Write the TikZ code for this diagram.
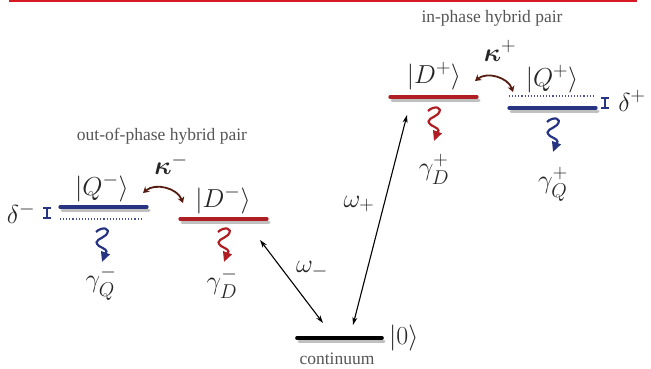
\RequirePackage{fix-cm}
\documentclass[tikz,border=0pt]{standalone}
\usepackage{amsmath}
\usepackage{fontspec}
\setmainfont{Liberation Serif}
\usetikzlibrary{arrows.meta}
\DeclareMathSizes{26}{26}{20}{15}
\definecolor{topred}{RGB}{215,25,35}
\definecolor{qblue}{RGB}{38,52,130}
\definecolor{dred}{RGB}{175,30,35}
\definecolor{kbrown}{RGB}{85,28,18}
\definecolor{txtgray}{RGB}{85,85,85}
\tikzset{
  shadowline/.style={line width=3pt, draw=black!45, opacity=0.55, line cap=round},
  lev/.style={line width=3.2pt, line cap=round},
  dotline/.style={line width=1.1pt, dotted, draw=qblue!85},
  mathlab/.style={inner sep=0pt, font=\fontsize{26}{30}\selectfont, text=black!85},
  gamlab/.style={inner sep=0pt, font=\fontsize{26}{30}\selectfont, text=black!85},
  captxt/.style={inner sep=0pt, font=\fontsize{17.5}{20}\selectfont, text=txtgray},
  omarrow/.style={line width=1.1pt, {Stealth[length=8pt,width=5pt]}-{Stealth[length=8pt,width=5pt]}},
  karrow/.style={line width=1.8pt, draw=kbrown, {Stealth[length=6pt,width=7pt]}-{Stealth[length=6pt,width=7pt]}},
  ibar/.style={line width=1.4pt, draw=qblue},
  wiggle/.pic={\draw[#1, line width=2.2pt, -{Triangle[length=10pt,width=9pt]}]
     (-6,4) .. controls (0,-2) and (10,0) .. (4,7)
            .. controls (0,11) and (-10,12) .. (-3,18)
            .. controls (2,21) and (7,22) .. (3,26) -- (0,34);}
}
\begin{document}
\begin{tikzpicture}[x=1pt,y=-1pt]
\useasboundingbox (0,0) rectangle (651,368);
% top rule
\draw[topred, line width=2.6pt] (9,1) -- (637,1);

% captions
\node[captxt] (inph) at (492,18) {in-phase hybrid pair};
\node[captxt] (outph) at (162,136) {out-of-phase hybrid pair};
\node[captxt] (cont) at (337,359) {continuum};

% levels: Q-
\draw[shadowline] (62,210) -- (149,210);
\draw[lev, qblue] (60,207) -- (147,207);
\draw[dotline] (60,219) -- (143,219);
% D-
\draw[shadowline] (182,222) -- (269,222);
\draw[lev, dred] (180,219) -- (267,219);
% D+
\draw[shadowline] (392,100) -- (479,100);
\draw[lev, dred] (390,97) -- (477,97);
% Q+
\draw[dotline] (509,96) -- (593,96);
\draw[shadowline] (511,111) -- (598,111);
\draw[lev, qblue] (509,108) -- (596,108);
% ground
\draw[shadowline] (299,341) -- (384,341);
\draw[lev, black, line width=3.6pt] (297,338) -- (382,338);

% state labels
\node[mathlab] (Qm) at (102,188) {$|Q^-\rangle$};
\node[mathlab] (Dm) at (223,200) {$|D^-\rangle$};
\node[mathlab] (Dp) at (434,76) {$|D^+\rangle$};
\node[mathlab] (Qp) at (552,79) {$|Q^+\rangle$};
\node[mathlab, anchor=west] (G0) at (389,338) {$|0\rangle$};
\node[mathlab] (km) at (171,164) {$\boldsymbol{\kappa}^-$};
\node[mathlab] (kp) at (500,51) {$\boldsymbol{\kappa}^+$};

% detuning markers
\draw[ibar] (47,208) -- (47,218) (43,208) -- (51,208) (43,218) -- (51,218);
\node[mathlab] (dm) at (21,213) {$\delta^-$};
\draw[ibar] (605,98) -- (605,108) (601,98) -- (609,98) (601,108) -- (609,108);
\node[mathlab] (dp) at (632,101) {$\delta^+$};

% coupling arrows
\coordinate (kmA) at (143,193);
\coordinate (kmB) at (183,203);
\draw[karrow] (kmA) to[bend left=55] (kmB);
\coordinate (kpA) at (475,81);
\coordinate (kpB) at (513,92);
\draw[karrow] (kpA) to[bend left=55] (kpB);

% optical transitions
\coordinate (om1) at (260,240);
\coordinate (om2) at (323,323);
\draw[omarrow] (om1) -- (om2);
\coordinate (op1) at (353,325);
\coordinate (op2) at (407,115);
\draw[omarrow] (op1) -- (op2);
\node[mathlab] (wm) at (312,270) {$\omega_-$};
\node[mathlab] (wp) at (359,204) {$\omega_+$};

% decays
\pic (wQm) at (102,228) {wiggle=qblue};
\pic (wDm) at (224,228) {wiggle=dred};
\pic (wDp) at (434,107) {wiggle=dred};
\pic (wQp) at (553,118) {wiggle=qblue};
\node[gamlab] (gQm) at (101,283) {$\gamma^-_Q$};
\node[gamlab] (gDm) at (222,283) {$\gamma^-_D$};
\node[gamlab] (gDp) at (434,169) {$\gamma^+_D$};
\node[gamlab] (gQp) at (553,184) {$\gamma^+_Q$};
\end{tikzpicture}
\end{document}
